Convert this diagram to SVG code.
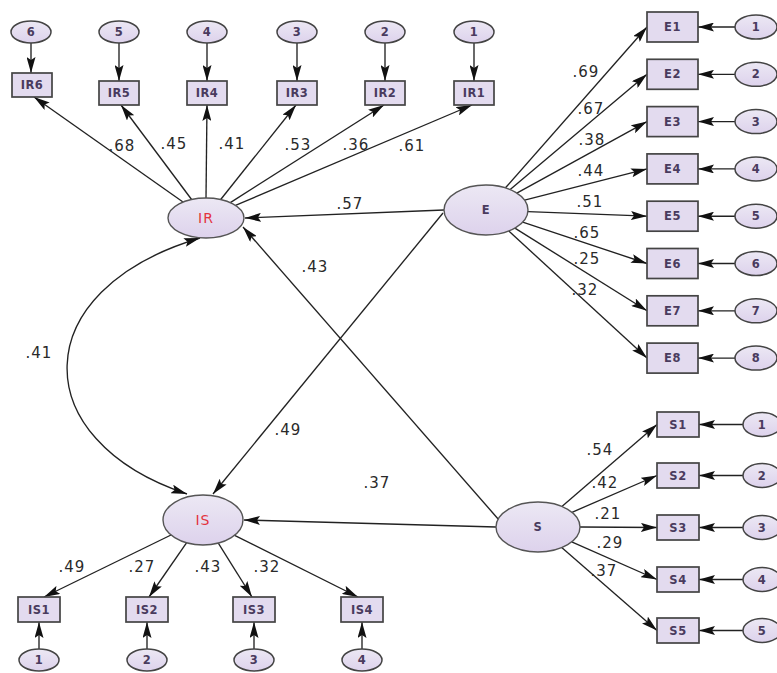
<svg xmlns="http://www.w3.org/2000/svg" width="777" height="673" viewBox="0 0 777 673">
<defs>
<linearGradient id="gf" x1="0" y1="0" x2="0" y2="1">
<stop offset="0" stop-color="#ece8f4"/>
<stop offset="1" stop-color="#ddd2ec"/>
</linearGradient>
<marker id="ah" markerUnits="userSpaceOnUse" markerWidth="16" markerHeight="9" refX="16" refY="4.5" orient="auto-start-reverse">
<path d="M0,0 L16,4.5 L0,9 L3,4.5 z" fill="#111"/>
</marker>
<style>
.lat{fill:url(#gf);stroke:#555;stroke-width:1.4}
.err{fill:url(#gf);stroke:#444;stroke-width:1.5}
.box{fill:#e3dbef;stroke:#444;stroke-width:1.7}
.t{font-family:"DejaVu Sans",sans-serif;font-size:11.5px;font-weight:bold;fill:#4a3b5e;text-anchor:middle;dominant-baseline:central;letter-spacing:0.5px}
.tr{font-family:"DejaVu Sans",sans-serif;font-size:14px;fill:#e3343f;text-anchor:middle;dominant-baseline:central;letter-spacing:1px}
.lb{font-family:"DejaVu Sans",sans-serif;font-size:15px;fill:#2a2a2a;text-anchor:middle;dominant-baseline:central;letter-spacing:1px}
.c line,.c path{stroke:#222;stroke-width:1.35;fill:none;marker-end:url(#ah)}
.c .ac{marker-start:url(#ah)}
</style>
</defs>
<rect width="777" height="673" fill="#fff"/>

<g class="c" id="connectors">
<line x1="31" y1="43" x2="31" y2="73"/>
<line x1="119" y1="43" x2="119" y2="81"/>
<line x1="207" y1="43" x2="207" y2="81"/>
<line x1="297" y1="43" x2="297" y2="81"/>
<line x1="385" y1="43" x2="385" y2="81"/>
<line x1="474" y1="43" x2="474" y2="81"/>
<line x1="183" y1="202" x2="34" y2="97"/>
<line x1="191.6" y1="199.5" x2="121" y2="105"/>
<line x1="206" y1="198" x2="207" y2="105"/>
<line x1="220.7" y1="199.5" x2="296" y2="105"/>
<line x1="230.3" y1="202.6" x2="384" y2="105"/>
<line x1="235.5" y1="205.4" x2="472" y2="105"/>
<line x1="505.5" y1="187.8" x2="647" y2="27"/>
<line x1="510.2" y1="189.6" x2="647" y2="74.3"/>
<line x1="516.8" y1="193.1" x2="647" y2="121.6"/>
<line x1="524.6" y1="200.1" x2="647" y2="168.9"/>
<line x1="527.9" y1="211.6" x2="647" y2="216.2"/>
<line x1="522.7" y1="222.2" x2="647" y2="263.5"/>
<line x1="514.9" y1="228.1" x2="647" y2="310.8"/>
<line x1="508.8" y1="231" x2="647" y2="358.1"/>
<line x1="735" y1="27" x2="698" y2="27"/>
<line x1="735" y1="74.3" x2="698" y2="74.3"/>
<line x1="735" y1="121.6" x2="698" y2="121.6"/>
<line x1="735" y1="168.9" x2="698" y2="168.9"/>
<line x1="735" y1="216.2" x2="698" y2="216.2"/>
<line x1="735" y1="263.5" x2="698" y2="263.5"/>
<line x1="735" y1="310.8" x2="698" y2="310.8"/>
<line x1="735" y1="358.1" x2="698" y2="358.1"/>
<line x1="444" y1="210" x2="245" y2="218"/>
<line x1="443" y1="213" x2="213" y2="494"/>
<line x1="499" y1="520" x2="243" y2="227"/>
<line x1="496" y1="527" x2="244" y2="520"/>
<path class="ac" d="M200,238 C25,290 25,440 187,494"/>
<line x1="561.9" y1="506.4" x2="657" y2="424.5"/>
<line x1="572" y1="512.3" x2="657" y2="475.5"/>
<line x1="580" y1="527" x2="657" y2="527.5"/>
<line x1="571.7" y1="541.9" x2="657" y2="579.5"/>
<line x1="561.7" y1="547.6" x2="657" y2="630.5"/>
<line x1="743" y1="424.5" x2="699" y2="424.5"/>
<line x1="743" y1="475.5" x2="699" y2="475.5"/>
<line x1="743" y1="527.5" x2="699" y2="527.5"/>
<line x1="743" y1="579.5" x2="699" y2="579.5"/>
<line x1="743" y1="630.5" x2="699" y2="630.5"/>
<line x1="171" y1="535" x2="44" y2="597"/>
<line x1="186.5" y1="542.8" x2="149" y2="597"/>
<line x1="218.3" y1="543.1" x2="252" y2="597"/>
<line x1="234.6" y1="535.3" x2="358" y2="597"/>
<line x1="39" y1="649" x2="39" y2="622"/>
<line x1="147" y1="649" x2="147" y2="622"/>
<line x1="254" y1="649" x2="254" y2="622"/>
<line x1="362" y1="649" x2="362" y2="622"/>
</g>

<g id="labels">
<text class="lb" x="122" y="146">.68</text>
<text class="lb" x="174" y="144">.45</text>
<text class="lb" x="232" y="144">.41</text>
<text class="lb" x="298" y="145">.53</text>
<text class="lb" x="356" y="145">.36</text>
<text class="lb" x="412" y="146">.61</text>
<text class="lb" x="586" y="72">.69</text>
<text class="lb" x="591" y="109">.67</text>
<text class="lb" x="592" y="140">.38</text>
<text class="lb" x="591" y="171">.44</text>
<text class="lb" x="590" y="202">.51</text>
<text class="lb" x="587" y="233">.65</text>
<text class="lb" x="587" y="259">.25</text>
<text class="lb" x="585" y="290">.32</text>
<text class="lb" x="350" y="204">.57</text>
<text class="lb" x="315" y="267">.43</text>
<text class="lb" x="39" y="353">.41</text>
<text class="lb" x="288" y="430">.49</text>
<text class="lb" x="377" y="483">.37</text>
<text class="lb" x="600" y="450">.54</text>
<text class="lb" x="605" y="483">.42</text>
<text class="lb" x="608" y="514">.21</text>
<text class="lb" x="610" y="543">.29</text>
<text class="lb" x="604" y="571">.37</text>
<text class="lb" x="72" y="567">.49</text>
<text class="lb" x="142" y="567">.27</text>
<text class="lb" x="208" y="567">.43</text>
<text class="lb" x="267" y="567">.32</text>
</g>

<g id="IR"><ellipse class="lat" cx="206" cy="218" rx="38" ry="20"/><text class="tr" x="206" y="218">IR</text></g>
<g id="E"><ellipse class="lat" cx="486" cy="210" rx="42" ry="25"/><text class="t" x="486" y="210">E</text></g>
<g id="IS"><ellipse class="lat" cx="203" cy="520" rx="40" ry="25"/><text class="tr" x="203" y="520">IS</text></g>
<g id="S"><ellipse class="lat" cx="538" cy="527" rx="42" ry="25"/><text class="t" x="538" y="527">S</text></g>

<g id="IR6"><rect class="box" x="12" y="73" width="40" height="24"/><text class="t" x="32" y="85">IR6</text></g>
<g id="IR5"><rect class="box" x="99" y="81" width="40" height="24"/><text class="t" x="119" y="93">IR5</text></g>
<g id="IR4"><rect class="box" x="187" y="81" width="40" height="24"/><text class="t" x="207" y="93">IR4</text></g>
<g id="IR3"><rect class="box" x="277" y="81" width="40" height="24"/><text class="t" x="297" y="93">IR3</text></g>
<g id="IR2"><rect class="box" x="365" y="81" width="40" height="24"/><text class="t" x="385" y="93">IR2</text></g>
<g id="IR1"><rect class="box" x="454" y="81" width="40" height="24"/><text class="t" x="474" y="93">IR1</text></g>

<g id="eIR6"><ellipse class="err" cx="31" cy="32" rx="20" ry="11"/><text class="t" x="31" y="32">6</text></g>
<g id="eIR5"><ellipse class="err" cx="119" cy="32" rx="20" ry="11"/><text class="t" x="119" y="32">5</text></g>
<g id="eIR4"><ellipse class="err" cx="207" cy="32" rx="20" ry="11"/><text class="t" x="207" y="32">4</text></g>
<g id="eIR3"><ellipse class="err" cx="297" cy="32" rx="20" ry="11"/><text class="t" x="297" y="32">3</text></g>
<g id="eIR2"><ellipse class="err" cx="385" cy="32" rx="20" ry="11"/><text class="t" x="385" y="32">2</text></g>
<g id="eIR1"><ellipse class="err" cx="474" cy="32" rx="20" ry="11"/><text class="t" x="474" y="32">1</text></g>

<g id="E1"><rect class="box" x="647" y="12" width="51" height="30"/><text class="t" x="672.5" y="27">E1</text></g>
<g id="E2"><rect class="box" x="647" y="59.3" width="51" height="30"/><text class="t" x="672.5" y="74.3">E2</text></g>
<g id="E3"><rect class="box" x="647" y="106.6" width="51" height="30"/><text class="t" x="672.5" y="121.6">E3</text></g>
<g id="E4"><rect class="box" x="647" y="153.9" width="51" height="30"/><text class="t" x="672.5" y="168.9">E4</text></g>
<g id="E5"><rect class="box" x="647" y="201.2" width="51" height="30"/><text class="t" x="672.5" y="216.2">E5</text></g>
<g id="E6"><rect class="box" x="647" y="248.5" width="51" height="30"/><text class="t" x="672.5" y="263.5">E6</text></g>
<g id="E7"><rect class="box" x="647" y="295.8" width="51" height="30"/><text class="t" x="672.5" y="310.8">E7</text></g>
<g id="E8"><rect class="box" x="647" y="343.1" width="51" height="30"/><text class="t" x="672.5" y="358.1">E8</text></g>

<g id="eE1"><ellipse class="err" cx="756" cy="27" rx="21" ry="12"/><text class="t" x="756" y="27">1</text></g>
<g id="eE2"><ellipse class="err" cx="756" cy="74.3" rx="21" ry="12"/><text class="t" x="756" y="74.3">2</text></g>
<g id="eE3"><ellipse class="err" cx="756" cy="121.6" rx="21" ry="12"/><text class="t" x="756" y="121.6">3</text></g>
<g id="eE4"><ellipse class="err" cx="756" cy="168.9" rx="21" ry="12"/><text class="t" x="756" y="168.9">4</text></g>
<g id="eE5"><ellipse class="err" cx="756" cy="216.2" rx="21" ry="12"/><text class="t" x="756" y="216.2">5</text></g>
<g id="eE6"><ellipse class="err" cx="756" cy="263.5" rx="21" ry="12"/><text class="t" x="756" y="263.5">6</text></g>
<g id="eE7"><ellipse class="err" cx="756" cy="310.8" rx="21" ry="12"/><text class="t" x="756" y="310.8">7</text></g>
<g id="eE8"><ellipse class="err" cx="756" cy="358.1" rx="21" ry="12"/><text class="t" x="756" y="358.1">8</text></g>

<g id="S1"><rect class="box" x="657" y="412" width="42" height="25"/><text class="t" x="678" y="424.5">S1</text></g>
<g id="S2"><rect class="box" x="657" y="463" width="42" height="25"/><text class="t" x="678" y="475.5">S2</text></g>
<g id="S3"><rect class="box" x="657" y="515" width="42" height="25"/><text class="t" x="678" y="527.5">S3</text></g>
<g id="S4"><rect class="box" x="657" y="567" width="42" height="25"/><text class="t" x="678" y="579.5">S4</text></g>
<g id="S5"><rect class="box" x="657" y="618" width="42" height="25"/><text class="t" x="678" y="630.5">S5</text></g>

<g id="eS1"><ellipse class="err" cx="762" cy="424.5" rx="19" ry="12"/><text class="t" x="762" y="424.5">1</text></g>
<g id="eS2"><ellipse class="err" cx="762" cy="475.5" rx="19" ry="12"/><text class="t" x="762" y="475.5">2</text></g>
<g id="eS3"><ellipse class="err" cx="762" cy="527.5" rx="19" ry="12"/><text class="t" x="762" y="527.5">3</text></g>
<g id="eS4"><ellipse class="err" cx="762" cy="579.5" rx="19" ry="12"/><text class="t" x="762" y="579.5">4</text></g>
<g id="eS5"><ellipse class="err" cx="762" cy="630.5" rx="19" ry="12"/><text class="t" x="762" y="630.5">5</text></g>

<g id="IS1"><rect class="box" x="18" y="597" width="42" height="25"/><text class="t" x="39" y="609.5">IS1</text></g>
<g id="IS2"><rect class="box" x="126" y="597" width="42" height="25"/><text class="t" x="147" y="609.5">IS2</text></g>
<g id="IS3"><rect class="box" x="233" y="597" width="42" height="25"/><text class="t" x="254" y="609.5">IS3</text></g>
<g id="IS4"><rect class="box" x="341" y="597" width="42" height="25"/><text class="t" x="362" y="609.5">IS4</text></g>

<g id="eIS1"><ellipse class="err" cx="39" cy="660" rx="20" ry="11"/><text class="t" x="39" y="660">1</text></g>
<g id="eIS2"><ellipse class="err" cx="147" cy="660" rx="20" ry="11"/><text class="t" x="147" y="660">2</text></g>
<g id="eIS3"><ellipse class="err" cx="254" cy="660" rx="20" ry="11"/><text class="t" x="254" y="660">3</text></g>
<g id="eIS4"><ellipse class="err" cx="362" cy="660" rx="20" ry="11"/><text class="t" x="362" y="660">4</text></g>
</svg>
